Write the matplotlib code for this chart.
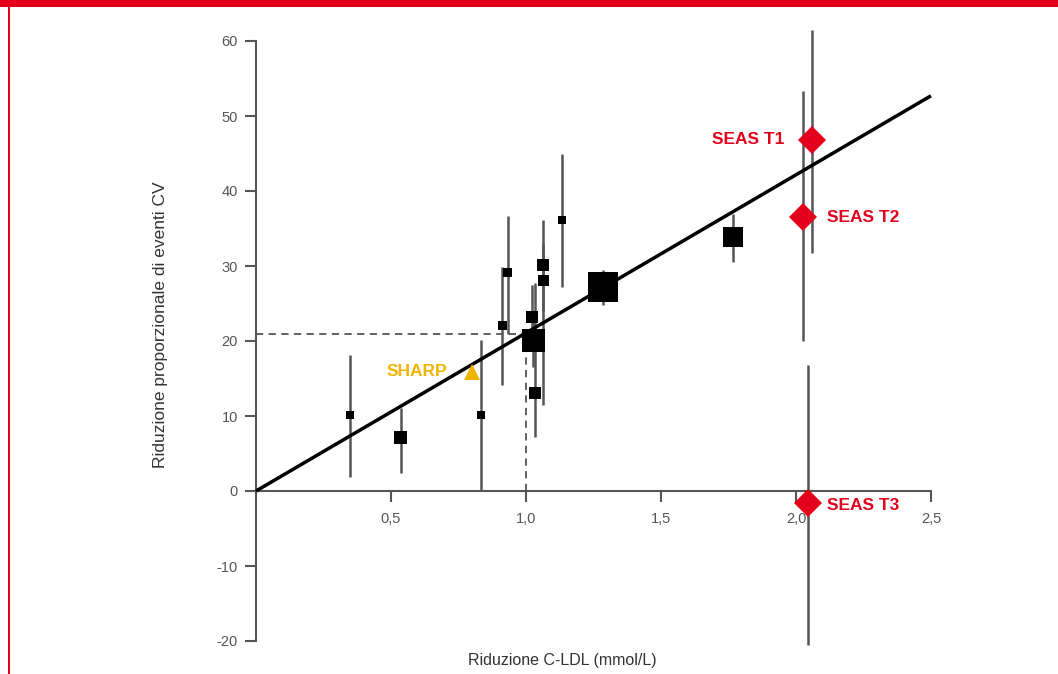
import matplotlib
matplotlib.use("Agg")
import matplotlib.pyplot as plt
from matplotlib.patches import Rectangle

# ---- data ----
studies_x = [0.348, 0.537, 0.833, 0.912, 0.933, 1.022, 1.026, 1.033, 1.063, 1.063, 1.133, 1.285, 1.767]
studies_y = [10.1, 7.2, 10.1, 22.1, 29.2, 23.2, 20.1, 13.1, 30.1, 28.1, 36.1, 27.2, 33.9]
studies_lo = [1.9, 2.4, 0.0, 14.1, 21.0, 19.0, 16.5, 7.2, 24.0, 11.5, 27.2, 24.8, 30.5]
studies_hi = [18.1, 11.1, 20.1, 29.9, 36.7, 27.5, 24.0, 27.7, 36.1, 33.0, 45.0, 29.5, 37.0]
studies_size_px = [8, 13, 8, 9, 9, 12, 23, 12, 12, 11, 8, 30, 20]

seas_labels = ["SEAS T1", "SEAS T2", "SEAS T3"]
seas_x = [2.059, 2.026, 2.044]
seas_y = [46.8, 36.5, -1.6]
seas_lo = [31.7, 20.0, -20.5]
seas_hi = [61.5, 53.3, 16.8]

sharp_label = "SHARP"
sharp_x = [0.80]
sharp_y = [15.9]

fit_x = [0.0, 2.5]
fit_y = [0.0, 52.7]

ref_x = 1.0
ref_y = 21.0

x_ticks = [0.5, 1.0, 1.5, 2.0, 2.5]
x_ticklabels = ["0,5", "1,0", "1,5", "2,0", "2,5"]
y_ticks = [-20, -10, 0, 10, 20, 30, 40, 50, 60]
y_ticklabels = ["-20", "-10", "0", "10", "20", "30", "40", "50", "60"]

xlabel = "Riduzione C-LDL (mmol/L)"
ylabel = "Riduzione proporzionale di eventi CV"

# ---- style ----
RED = "#E2001A"
GOLD = "#F2B400"
GREY = "#555555"
FONT = ["Liberation Sans", "DejaVu Sans"]
plt.rcParams["font.family"] = FONT

W, H = 1058, 674
fig = plt.figure(figsize=(W / 100, H / 100), dpi=100)
fig.patch.set_facecolor("white")

# frame decorations
fig.patches.append(Rectangle((0, 1 - 7 / H), 1, 7 / H, transform=fig.transFigure,
                             facecolor=RED, edgecolor="none", zorder=0))
fig.patches.append(Rectangle((8 / W, 0), 2 / W, 1, transform=fig.transFigure,
                             facecolor=RED, edgecolor="none", zorder=0))

ax = fig.add_axes([256 / W, (H - 641) / H, 675 / W, 600 / H])
ax.set_xlim(0, 2.5)
ax.set_ylim(-20, 60)
ax.set_facecolor("none")

for s in ["top", "right"]:
    ax.spines[s].set_visible(False)
ax.spines["left"].set_position(("data", 0))
ax.spines["bottom"].set_position(("data", 0))
ax.spines["left"].set_bounds(-20, 60)
ax.spines["bottom"].set_bounds(0, 2.5)
for s in ["left", "bottom"]:
    ax.spines[s].set_color(GREY)
    ax.spines[s].set_linewidth(1.5)

ax.set_xticks(x_ticks)
ax.set_xticklabels(x_ticklabels)
ax.set_yticks(y_ticks)
ax.set_yticklabels(y_ticklabels)
ax.tick_params(axis="both", direction="out", length=8, width=1.5, color=GREY,
               labelcolor=GREY, labelsize=10.5)
ax.tick_params(axis="x", pad=7)
ax.tick_params(axis="y", pad=5)

# error bars
yerr_lo = [y - lo for y, lo in zip(studies_y, studies_lo)]
yerr_hi = [hi - y for y, hi in zip(studies_y, studies_hi)]
ax.errorbar(studies_x, studies_y, yerr=[yerr_lo, yerr_hi], fmt="none",
            ecolor=GREY, elinewidth=1.8, capsize=0, zorder=2, clip_on=False)
s_lo = [y - lo for y, lo in zip(seas_y, seas_lo)]
s_hi = [hi - y for y, hi in zip(seas_y, seas_hi)]
ax.errorbar(seas_x, seas_y, yerr=[s_lo, s_hi], fmt="none",
            ecolor=GREY, elinewidth=1.8, capsize=0, zorder=2, clip_on=False)

# reference dashed lines
ax.plot([0, ref_x], [ref_y, ref_y], color=GREY, lw=1.3, ls=(0, (4, 3)), zorder=1.5)
ax.plot([ref_x, ref_x], [0, ref_y], color=GREY, lw=1.3, ls=(0, (4, 3)), zorder=1.5)

# regression line
ax.plot(fit_x, fit_y, color="black", lw=2.5, zorder=3, solid_capstyle="butt", clip_on=False)

# study markers
sizes = [(p * 72 / 100) ** 2 for p in studies_size_px]
ax.scatter(studies_x, studies_y, s=sizes, marker="s", color="black", zorder=4,
           linewidths=0, clip_on=False)

# SEAS markers
ax.plot(seas_x, seas_y, ls="none", marker="D", ms=14.5, color=RED, mew=0, zorder=5, clip_on=False)
offsets = [(-20, 0, "right"), (17, 0, "left"), (14, -2, "left")]
for lab, x, y, (dx, dy, ha) in zip(seas_labels, seas_x, seas_y, offsets):
    ax.annotate(lab, (x, y), xytext=(dx, dy), textcoords="offset points",
                ha=ha, va="center", color=RED, fontsize=12.5, fontweight="bold",
                family=FONT, zorder=6, annotation_clip=False)

# SHARP
ax.plot(sharp_x, sharp_y, ls="none", marker="^", ms=11, color=GOLD, mew=0, zorder=5)
ax.annotate(sharp_label, (sharp_x[0], sharp_y[0]), xytext=(-18, 0), textcoords="offset points",
            ha="right", va="center", color=GOLD, fontsize=12.5, fontweight="bold", family=FONT)

# axis labels
fig.text(562 / W, 1 - 660 / H, xlabel, ha="center", va="center", color="#333333",
         fontsize=11.5, family=FONT)
fig.text(160 / W, 1 - 325 / H, ylabel, ha="center", va="center", rotation=90,
         color="#333333", fontsize=12.5, family=FONT)

fig.savefig("out.png", dpi=100, facecolor="white")
